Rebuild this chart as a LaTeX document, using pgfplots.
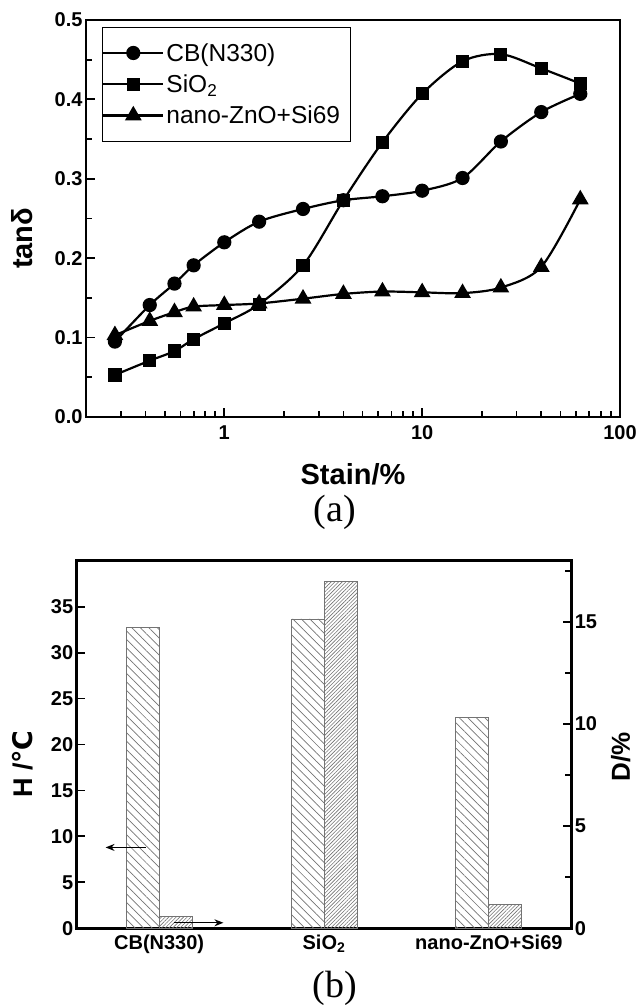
\documentclass[border=0pt]{standalone}
\usepackage{fontspec}
\setmainfont{Liberation Sans}
\newfontfamily\seriffont{Liberation Serif}
\newfontfamily\dejavu{DejaVu Sans}
\usepackage{pgfplots}
\pgfplotsset{compat=1.18}
\usetikzlibrary{patterns.meta,arrows.meta}

\pgfplotstableread{
x      cb     si     zn
0.28   0.095  0.053  0.103
0.42   0.141  0.071  0.121
0.56   0.168  0.083  0.132
0.70   0.191  0.098  0.139
1.0    0.220  0.118  0.141
1.5    0.246  0.142  0.143
2.5    0.262  0.191  0.149
4.0    0.273  0.273  0.155
6.3    0.278  0.346  0.158
10     0.285  0.407  0.157
16     0.301  0.448  0.156
25     0.347  0.457  0.163
40     0.384  0.439  0.189
63     0.407  0.420  0.274
}\tandata

\begin{document}
\begin{tikzpicture}
\path[use as bounding box] (0pt,0pt) rectangle (638pt,1005pt);

\begin{axis}[
  at={(86pt,588pt)}, anchor=south west,
  scale only axis, width=534pt, height=397pt,
  xmode=log, xmin=0.2, xmax=100,
  ymin=0, ymax=0.5,
  xtick={1,10,100}, xticklabels={1,10,100},
  minor xtick={0.3,0.4,0.5,0.6,0.7,0.8,0.9,2,3,4,5,6,7,8,9,20,30,40,50,60,70,80,90},
  ytick={0,0.1,0.2,0.3,0.4,0.5}, yticklabels={0.0,0.1,0.2,0.3,0.4,0.5},
  minor ytick={0.05,0.15,0.25,0.35,0.45},
  tick align=inside, xtick pos=bottom, ytick pos=left,
  major tick length=9pt, minor tick length=6pt,
  axis line style={line width=2.6pt},
  every tick/.style={line width=1.8pt, black},
  tick label style={font=\fontsize{20}{22}\selectfont\bfseries},
  xticklabel style={yshift=-5pt},
  xlabel={Stain/\%}, ylabel={tanδ},
  label style={font=\fontsize{29}{32}\selectfont\bfseries},
  xlabel style={at={(axis description cs:0.5,-0.144)}, anchor=center},
  ylabel style={at={(axis description cs:-0.12,0.45)}, anchor=center},
  legend style={at={(axis description cs:0.03,0.982)}, anchor=north west,
    draw=black, inner xsep=0pt, inner ysep=14pt,
    font=\fontsize{24.5}{28}\selectfont, row sep=8pt,
    nodes={inner xsep=2pt}},
  legend cell align=left,
  legend image code/.code={\draw[mark repeat=2,mark phase=2,#1] plot coordinates {(0pt,0pt) (30pt,0pt) (60pt,0pt)};},
  legend image post style={line width=2.2pt},
]
\addplot[black, line width=2.2pt, smooth, mark=*, mark size=6pt, mark options={solid}] table[x=x,y=cb] {\tandata};
\addlegendentry{CB(N330)}
\addplot[black, line width=2.2pt, smooth, mark=square*, mark size=5.5pt, mark options={solid}] table[x=x,y=si] {\tandata};
\addlegendentry{SiO\textsubscript{2}}
\addplot[black, line width=2.2pt, smooth, mark=triangle*, mark size=7.5pt, mark options={solid}] table[x=x,y=zn] {\tandata};
\addlegendentry{nano-ZnO+Si69\hspace*{8pt}}
\end{axis}

\node[font=\seriffont\fontsize{38}{42}\selectfont] at (335pt,493pt) {(a)};

\begin{axis}[
  at={(76.7pt,76.7pt)}, anchor=south west,
  scale only axis, width=494.6pt, height=367.6pt,
  xmin=-0.5, xmax=2.5, ymin=0, ymax=40,
  xtick={0,1,2}, xticklabels={CB(N330),SiO\textsubscript{2},nano-ZnO+Si69},
  ytick={0,5,10,15,20,25,30,35}, yticklabels={0,5,10,15,20,25,30,35},
  ytick pos=left, tick align=inside,
  major tick length=8pt,
  x tick style={draw=none},
  axis line style={line width=2.6pt},
  every tick/.style={line width=1.8pt, black},
  tick label style={font=\fontsize{20}{22}\selectfont\bfseries},
  xticklabel style={yshift=-3pt},
  ylabel={H /{\dejavu ℃}},
  label style={font=\fontsize{27}{30}\selectfont\bfseries},
  ylabel style={at={(axis description cs:-0.1086,0.447)}, anchor=center},
]
\addplot[ybar, bar width=0.2, bar shift=-0.1, draw=black!55, line width=0.9pt,
  pattern={Lines[angle=-45,distance=6pt,line width=0.7pt]}, pattern color=black!55]
  coordinates {(0,32.75) (1,33.66) (2,22.9)};
\end{axis}

\begin{axis}[
  at={(76.7pt,76.7pt)}, anchor=south west,
  scale only axis, width=494.6pt, height=367.6pt,
  xmin=-0.5, xmax=2.5, ymin=0, ymax=18,
  axis x line=none, axis y line*=right,
  ytick={0,5,10,15}, yticklabels={0,5,10,15},
  minor ytick={2.5,7.5,12.5,17.5},
  tick align=inside,
  major tick length=8pt, minor tick length=6pt,
  axis line style={line width=2.6pt},
  every tick/.style={line width=1.8pt, black},
  tick label style={font=\fontsize{20}{22}\selectfont\bfseries},
  ylabel={D/\%},
  label style={font=\fontsize{26}{30}\selectfont\bfseries},
  ylabel style={at={(axis description cs:1.1,0.466)}, anchor=center},
]
\addplot[ybar, bar width=0.2, bar shift=0.1, draw=black!55, line width=0.9pt,
  pattern={Lines[angle=45,distance=2.6pt,line width=0.6pt]}, pattern color=black!55]
  coordinates {(0,0.57) (1,16.96) (2,1.17)};
\draw[-{Stealth[length=9pt,width=7pt]}, line width=1.4pt] (axis cs:-0.08,3.96) -- (axis cs:-0.325,3.96);
\draw[-{Stealth[length=9pt,width=7pt]}, line width=1.4pt] (axis cs:0.09,0.27) -- (axis cs:0.39,0.27);
\end{axis}

\node[font=\seriffont\fontsize{38}{42}\selectfont] at (335pt,17pt) {(b)};
\end{tikzpicture}
\end{document}
